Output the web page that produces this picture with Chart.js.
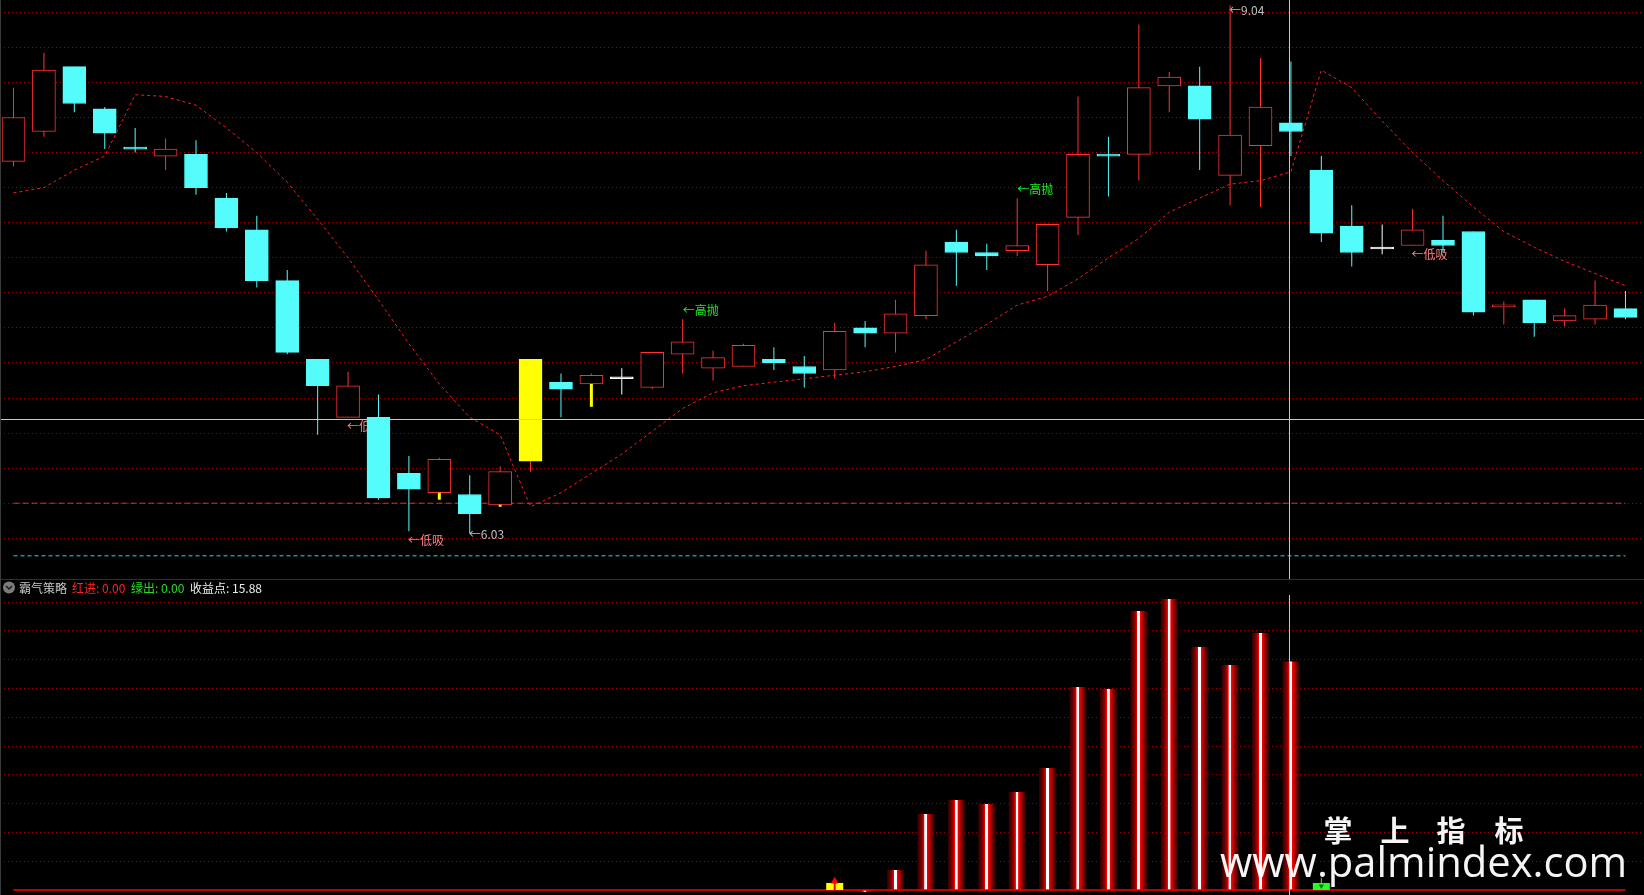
<!DOCTYPE html>
<html>
<head>
<meta charset="utf-8">
<script src="https://cdn.jsdelivr.net/npm/chart.js@4.4.1/dist/chart.umd.min.js"></script>
<style>
  html, body { margin: 0; padding: 0; background: #000; overflow: hidden; }
  #wrap { position: relative; width: 1644px; height: 895px; background: #000; }
  #top { position: absolute; left: 0; top: 0; }
  #bottom { position: absolute; left: 0; top: 580px; }
  #sep { position: absolute; left: 0; top: 579px; width: 1644px; height: 1px; background: #a00000; }
  #edge { position: absolute; left: 0; top: 0; width: 1px; height: 895px; background: #3a3a3a; }
</style>
</head>
<body>
<div id="wrap">
  <canvas id="top" width="1644" height="579"></canvas>
  <div id="sep"></div>
  <canvas id="bottom" width="1644" height="315"></canvas>
  <div id="edge"></div>
</div>
<script>
// daily bars, oldest first
const opens  = [8.15, 8.32, 8.69, 8.45, 8.23, 8.18, 8.19, 7.94, 7.76, 7.47,
                7.02, 6.69, 6.69, 6.37, 6.26, 6.25, 6.19, 6.44, 6.89, 6.88,
                6.91, 6.86, 7.05, 6.97, 6.98, 7.02, 6.98, 6.96, 7.20, 7.17,
                7.27, 7.69, 7.63, 7.64, 7.56, 7.83, 8.19, 8.19, 8.58, 8.58,
                8.07, 8.24, 8.37, 8.10, 7.78, 7.65, 7.67, 7.70, 7.75, 7.32,
                7.36, 7.24, 7.25, 7.31];
const highs  = [8.57, 8.77, 8.69, 8.46, 8.34, 8.28, 8.27, 7.97, 7.84, 7.53,
                7.02, 6.95, 6.82, 6.47, 6.46, 6.36, 6.41, 7.02, 6.94, 6.94,
                6.97, 7.06, 7.25, 7.07, 7.11, 7.09, 7.04, 7.23, 7.24, 7.36,
                7.64, 7.76, 7.68, 7.94, 7.79, 8.52, 8.29, 8.93, 8.66, 8.69,
                9.04, 8.74, 8.72, 8.18, 7.90, 7.79, 7.88, 7.84, 7.75, 7.35,
                7.36, 7.31, 7.47, 7.41];
const lows   = [8.12, 8.29, 8.43, 8.22, 8.20, 8.10, 7.96, 7.75, 7.43, 7.05,
                6.59, 6.69, 6.22, 6.04, 6.26, 6.03, 6.19, 6.38, 6.69, 6.88,
                6.82, 6.85, 6.94, 6.90, 6.98, 6.96, 6.86, 6.91, 7.09, 7.06,
                7.25, 7.44, 7.53, 7.61, 7.41, 7.73, 7.95, 8.04, 8.43, 8.10,
                7.90, 7.89, 8.18, 7.69, 7.55, 7.62, 7.67, 7.63, 7.27, 7.22,
                7.15, 7.21, 7.22, 7.25];
const closes = [8.40, 8.67, 8.48, 8.31, 8.22, 8.22, 8.00, 7.77, 7.47, 7.06,
                6.87, 6.87, 6.23, 6.28, 6.45, 6.14, 6.38, 7.02, 6.85, 6.93,
                6.91, 7.06, 7.12, 7.03, 7.10, 7.00, 6.94, 7.18, 7.17, 7.28,
                7.56, 7.63, 7.61, 7.67, 7.79, 8.19, 8.18, 8.57, 8.63, 8.39,
                8.30, 8.46, 8.32, 7.74, 7.63, 7.65, 7.76, 7.67, 7.29, 7.33,
                7.23, 7.27, 7.33, 7.26];

// red dashed guide line of the main chart
const trend = [7.97, 8.00, 8.10, 8.18, 8.53, 8.52, 8.47, 8.34, 8.20, 8.03,
               7.82, 7.60, 7.36, 7.11, 6.88, 6.69, 6.59, 6.18, 6.26, 6.37,
               6.48, 6.61, 6.74, 6.83, 6.87, 6.89, 6.91, 6.93, 6.95, 6.98,
               7.02, 7.12, 7.22, 7.33, 7.38, 7.48, 7.60, 7.71, 7.86, 7.94,
               8.02, 8.04, 8.09, 8.67, 8.57, 8.38, 8.20, 8.04, 7.89, 7.75,
               7.66, 7.58, 7.51, 7.44];

const supportLevel = 6.20;
const floorLevel = 5.90;

const yellowCandles = [17];
const stickIdx = [14, 16, 19];
const stickTop = [6.26, 6.19, 6.88];
const stickBottom = [6.22, 6.18, 6.75];

const lowBuyIdx = [11, 13, 46];   // ←低吸
const highSellIdx = [22, 33];     // ←高抛
const maxIdx = 40, minIdx = 15;

// 霸气策略 profit bars (%)
const profit = [null, null, null, null, null, null, null, null, null, null,
                null, null, null, null, null, null, null, null, null, null,
                null, null, null, null, null, null, null, null, -0.14, 1.39,
                5.28, 6.25, 5.98, 6.81, 8.48, 14.11, 13.97, 19.39, 20.22, 16.89,
                15.64, 17.86, 15.88, null, null, null, null, null, null, null,
                null, null, null, null];
const buyIdx = [27];
const sellIdx = [43];

const priceTicks = [9.0, 8.8, 8.6, 8.4, 8.2, 8.0, 7.8, 7.6, 7.4, 7.2, 7.0, 6.8, 6.6, 6.4, 6.2, 6.0];
const profitTicks = [2, 4, 6, 8, 10, 12, 14, 16, 18, 20];

const cursor = { index: 41.95, price: 6.68 };

const N = closes.length;
const idx = closes.map((_, i) => i);
const UP = '#ff3232', DOWN = '#54fcfc', FLAT = '#ffffff', YEL = '#ffff00';
const X_MIN = -0.444, X_MAX = 53.609;
const CJK = '"Noto Sans CJK SC", sans-serif';

function lineColor(i) {
  if (closes[i] > opens[i]) return UP;
  if (closes[i] < opens[i]) return DOWN;
  return FLAT;
}
function bodyEdge(i) {
  return yellowCandles.includes(i) ? YEL : lineColor(i);
}
function bodyFill(i) {
  if (yellowCandles.includes(i)) return YEL;
  if (closes[i] > opens[i]) return '#000000';
  return lineColor(i);
}

const hideAll = { legend: { display: false }, tooltip: { enabled: false } };

const priceMarks = {
  id: 'priceMarks',
  beforeDatasetsDraw(chart) {
    const { ctx, scales: { x, y } } = chart;
    ctx.save();
    ctx.font = '12px ' + CJK;
    ctx.textAlign = 'left';
    ctx.textBaseline = 'middle';
    ctx.fillStyle = '#ff8080';
    lowBuyIdx.forEach(i => ctx.fillText('←低吸', x.getPixelForValue(i) - 1, y.getPixelForValue(lows[i]) + 9));
    ctx.fillStyle = '#22ee22';
    highSellIdx.forEach(i => ctx.fillText('←高抛', x.getPixelForValue(i), y.getPixelForValue(highs[i]) - 9));
    ctx.fillStyle = '#c0c0c0';
    ctx.fillText('←' + lows[minIdx].toFixed(2), x.getPixelForValue(minIdx) - 1, y.getPixelForValue(lows[minIdx]) + 1);
    ctx.fillText('←' + highs[maxIdx].toFixed(2), x.getPixelForValue(maxIdx) - 1, y.getPixelForValue(highs[maxIdx]) + 5);
    ctx.restore();
  },
  afterDatasetsDraw(chart) {
    const { ctx, chartArea: a, scales: { x, y } } = chart;
    const cx = Math.round(x.getPixelForValue(cursor.index)) + 0.5;
    const cy = Math.round(y.getPixelForValue(cursor.price)) + 0.5;
    ctx.save();
    ctx.strokeStyle = '#c8c8c8';
    ctx.lineWidth = 1;
    ctx.beginPath();
    ctx.moveTo(0, cy); ctx.lineTo(a.right, cy);
    ctx.moveTo(cx, 0); ctx.lineTo(cx, a.bottom);
    ctx.stroke();
    ctx.restore();
  }
};

new Chart(document.getElementById('top'), {
  type: 'bar',
  data: {
    datasets: [
      {
        type: 'line', label: 'trend',
        data: idx.map(i => ({ x: i, y: trend[i] })),
        borderColor: '#ff1a1a', borderWidth: 1, borderDash: [3, 3],
        pointRadius: 0, tension: 0, order: 1
      },
      {
        type: 'line', label: 'support',
        data: [{ x: 0, y: supportLevel }, { x: N - 1, y: supportLevel }],
        borderColor: '#ff2020', borderWidth: 1, borderDash: [6, 3],
        pointRadius: 0, order: 8
      },
      {
        type: 'line', label: 'floor',
        data: [{ x: 0, y: floorLevel }, { x: N - 1, y: floorLevel }],
        borderColor: '#1ee0e0', borderWidth: 1, borderDash: [4, 3],
        pointRadius: 0, order: 8
      },
      {
        label: 'sticks',
        data: stickIdx.map((i, k) => ({ x: i, y: [stickTop[k], stickBottom[k]] })),
        backgroundColor: YEL, barThickness: 3, grouped: false, inflateAmount: 0,
        minBarLength: 2, order: 2
      },
      {
        label: 'bodies',
        data: idx.map(i => ({ x: i, y: [opens[i], closes[i]] })),
        backgroundColor: idx.map(bodyFill),
        borderColor: idx.map(bodyEdge),
        borderWidth: 1, borderSkipped: false, minBarLength: 2,
        barThickness: 23, grouped: false, order: 3
      },
      {
        label: 'wicks',
        data: idx.map(i => ({ x: i, y: [lows[i], highs[i]] })),
        backgroundColor: idx.map(lineColor),
        barThickness: 1, inflateAmount: 0, grouped: false, order: 4
      }
    ]
  },
  options: {
    responsive: false, animation: false, events: [],
    layout: { padding: 0, autoPadding: false },
    plugins: hideAll,
    scales: {
      x: { type: 'linear', min: X_MIN, max: X_MAX, offset: false, display: false },
      y: {
        type: 'linear', min: 5.7678, max: 9.07015,
        ticks: { display: false },
        grid: { color: '#a00000', drawTicks: false, lineWidth: 1 },
        border: { display: false, dash: [1, 3] },
        afterBuildTicks: s => { s.ticks = priceTicks.map(v => ({ value: v })); }
      }
    }
  },
  plugins: [priceMarks]
});

const panelDeco = {
  id: 'panelDeco',
  afterDraw(chart) {
    const { ctx, chartArea: a, scales: { x } } = chart;
    ctx.save();
    // cursor column
    const cx = Math.round(x.getPixelForValue(cursor.index)) + 0.5;
    ctx.strokeStyle = '#c8c8c8';
    ctx.lineWidth = 1;
    ctx.beginPath(); ctx.moveTo(cx, 15); ctx.lineTo(cx, a.bottom); ctx.stroke();

    // title row
    ctx.fillStyle = '#7c7c7c';
    ctx.beginPath(); ctx.arc(9, 7.5, 6, 0, Math.PI * 2); ctx.fill();
    ctx.strokeStyle = '#1a1a1a'; ctx.lineWidth = 1.5;
    ctx.beginPath(); ctx.moveTo(6, 6); ctx.lineTo(9, 9); ctx.lineTo(12, 6); ctx.stroke();
    ctx.font = '12px ' + CJK;
    ctx.textBaseline = 'middle';
    ctx.textAlign = 'left';
    const last = profit.filter(v => v !== null).pop();
    const parts = [
      ['霸气策略', '#c8c8c8', 19], ['红进:', '#ff2020', 72], ['0.00', '#ff2020', 102],
      ['绿出:', '#20e020', 131], ['0.00', '#20e020', 161],
      ['收益点:', '#eeeeee', 190], [last.toFixed(2), '#eeeeee', 232]
    ];
    parts.forEach(([t, c, px]) => { ctx.fillStyle = c; ctx.fillText(t, px, 8); });

    // watermark
    ctx.fillStyle = 'rgba(255,255,255,0.96)';
    ctx.font = 'bold 29px ' + CJK;
    ctx.textAlign = 'center';
    ['掌', '上', '指', '标'].forEach((ch, k) => ctx.fillText(ch, [1338, 1395, 1451, 1509][k], 251));
    ctx.font = '40px "Open Sans", sans-serif';
    const w = ctx.measureText('www.palmindex.com').width;
    const size = 40 * 407 / w;
    ctx.font = size.toFixed(1) + 'px "Open Sans", sans-serif';
    ctx.textAlign = 'left';
    ctx.textBaseline = 'alphabetic';
    ctx.fillText('www.palmindex.com', 1220, 296.5);
    ctx.restore();
  }
};

function barGradient(c) {
  const chart = c.chart;
  const xs = chart.scales.x;
  if (!xs || !c.raw) return '#c00000';
  const cx = xs.getPixelForValue(c.raw.x);
  if (!Number.isFinite(cx)) return '#c00000';
  const g = chart.ctx.createLinearGradient(cx - 8.5, 0, cx + 8.5, 0);
  g.addColorStop(0, '#300000');
  g.addColorStop(0.15, '#5a0000');
  g.addColorStop(0.3, '#a00000');
  g.addColorStop(0.4, '#ff0000');
  g.addColorStop(0.42, '#ffffff');
  g.addColorStop(0.56, '#ffffff');
  g.addColorStop(0.58, '#ff0000');
  g.addColorStop(0.7, '#c00000');
  g.addColorStop(0.85, '#6a0000');
  g.addColorStop(1, '#300000');
  return g;
}

new Chart(document.getElementById('bottom'), {
  type: 'bar',
  data: {
    datasets: [
      {
        label: '收益点',
        data: idx.filter(i => profit[i] !== null).map(i => ({ x: i, y: profit[i] })),
        backgroundColor: barGradient,
        barThickness: 17, grouped: false, inflateAmount: 0, order: 4
      },
      {
        type: 'line', label: 'zero',
        data: [{ x: 0, y: 0 }, { x: N - 1, y: 0 }],
        borderColor: '#ff0000', borderWidth: 1.5, pointRadius: 0, order: 3
      },
      {
        label: '红进',
        data: buyIdx.map(i => ({ x: i, y: [0, 0.49] })),
        backgroundColor: YEL, barThickness: 17, grouped: false, inflateAmount: 0, order: 2
      },
      {
        label: '红进stem',
        data: buyIdx.map(i => ({ x: i, y: [0, 0.5] })),
        backgroundColor: '#ff0000', barThickness: 2, grouped: false, inflateAmount: 0, order: 1
      },
      {
        type: 'line', label: '红进arrow', showLine: false,
        data: buyIdx.map(i => ({ x: i, y: 0.6 })),
        pointStyle: 'triangle', pointRadius: 4.5, pointBorderWidth: 0,
        pointBackgroundColor: '#ff0000', order: 1
      },
      {
        label: '绿出',
        data: sellIdx.map(i => ({ x: i, y: [0, 0.49] })),
        backgroundColor: '#22ff22', barThickness: 17, grouped: false, inflateAmount: 0, order: 2
      },
      {
        label: '绿出stem',
        data: sellIdx.map(i => ({ x: i, y: [0.49, 0.85] })),
        backgroundColor: '#22ff22', barThickness: 1, grouped: false, inflateAmount: 0, order: 1
      },
      {
        type: 'line', label: '绿出arrow', showLine: false,
        data: sellIdx.map(i => ({ x: i, y: 0.28 })),
        pointStyle: 'triangle', pointRotation: 180, pointRadius: 3, pointBorderWidth: 0,
        pointBackgroundColor: '#0a6a0a', order: 1
      }
    ]
  },
  options: {
    responsive: false, animation: false, events: [],
    layout: { padding: 0, autoPadding: false },
    plugins: hideAll,
    scales: {
      x: { type: 'linear', min: X_MIN, max: X_MAX, offset: false, display: false },
      y: {
        type: 'linear', min: -0.3475, max: 21.543,
        ticks: { display: false },
        grid: { color: '#a00000', drawTicks: false, lineWidth: 1 },
        border: { display: false, dash: [1, 3] },
        afterBuildTicks: s => { s.ticks = profitTicks.map(v => ({ value: v })); }
      }
    }
  },
  plugins: [panelDeco]
});
</script>
</body>
</html>
